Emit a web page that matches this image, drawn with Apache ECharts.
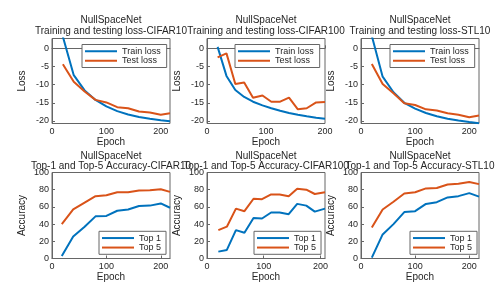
<!DOCTYPE html>
<html><head><meta charset="utf-8">
<script src="https://cdn.jsdelivr.net/npm/echarts@6/dist/echarts.min.js"></script>
<style>html,body{margin:0;padding:0;background:#fff}#c{width:498px;height:288px}</style>
</head><body><div id="c"></div>
<script>
// ---- data ----
const datasetNames = ['CIFAR10', 'CIFAR100', 'STL10'];
const lossNames = ['Train loss', 'Test loss'];
const accNames = ['Top 1', 'Top 5'];

const epochsLossC10 = [20, 40, 60, 80, 100, 120, 140, 160, 180, 200, 217];
const trainLossC10 = [3.2, -7.4, -11.6, -14.2, -16.0, -17.3, -18.2, -18.9, -19.4, -19.8, -20.1];
const testLossC10 = [-4.4, -9.2, -11.9, -14.2, -14.9, -16.2, -16.5, -17.4, -17.7, -18.3, -17.9];

const epochsLossC100 = [18, 33, 48, 63, 78, 94, 109, 124, 139, 154, 169, 185, 200];
const trainLossC100 = [0.4, -7.6, -11.5, -13.4, -14.7, -15.7, -16.5, -17.2, -17.8, -18.3, -18.7, -19.1, -19.4];
const testLossC100 = [-2.5, -1.4, -9.8, -9.4, -13.6, -13.0, -14.7, -14.7, -13.6, -16.8, -16.5, -14.9, -14.8];

const epochsLossSTL = [20, 40, 60, 80, 100, 120, 140, 160, 180, 200, 218];
const trainLossSTL = [3.4, -7.8, -12.1, -15.0, -16.6, -17.8, -18.7, -19.4, -19.9, -20.3, -20.6];
const testLossSTL = [-4.3, -9.8, -12.4, -15.1, -15.6, -16.8, -17.1, -17.9, -18.3, -19.0, -18.5];

const epochsAccC10 = [18, 39, 60, 80, 100, 120, 140, 160, 180, 200, 217];
const top1C10 = [3, 25.5, 37, 49, 49.5, 55.5, 57, 61, 61.5, 64, 59];
const top5C10 = [40, 57, 65, 72.5, 73.5, 77, 77, 79, 79.5, 80.5, 77.5];

const epochsAccC100 = [20, 35, 51, 66, 82, 97, 113, 128, 144, 159, 175, 190, 208];
const top1C100 = [8, 10, 33, 30, 47, 46.5, 53.5, 53.5, 51.5, 63.5, 61.5, 54.5, 58];
const top5C100 = [33, 37, 58, 55, 69.5, 69, 74.5, 74.5, 72.5, 81, 80, 75, 77];

const epochsAccSTL = [20, 40, 60, 80, 100, 120, 140, 160, 180, 200, 218];
const top1STL = [1, 28, 40, 54, 55, 63.5, 65.5, 71, 72.5, 76, 72];
const top5STL = [36, 57, 66, 75.5, 77, 81.5, 82, 86, 87, 89, 86.5];

const xTickValues = [0, 100, 200];
const lossTickValues = [-20, -15, -10, -5, 0];
const accTickValues = [0, 20, 40, 60, 80, 100];

// ---- layout / style ----
const BLUE = '#0072BD', ORANGE = '#D95319';
const AXIS = '#666', TXT = '#262626';
const FONT = 'Liberation Sans, Arial, Helvetica, sans-serif';
const lefts = [52, 207, 361];
const W = 118;
const rows = [{ top: 38.5, height: 85 }, { top: 172.5, height: 86 }];
const xMaxLoss = [217, 200, 218];
const xMaxAcc = [217, 208, 218];

const lossData = [
  [epochsLossC10, trainLossC10, testLossC10],
  [epochsLossC100, trainLossC100, testLossC100],
  [epochsLossSTL, trainLossSTL, testLossSTL]
];
const accData = [
  [epochsAccC10, top1C10, top5C10],
  [epochsAccC100, top1C100, top5C100],
  [epochsAccSTL, top1STL, top5STL]
];

const zip = (xs, ys) => xs.map((x, i) => [x, ys[i]]);

const grid = [], xAxis = [], yAxis = [], series = [], title = [], legend = [];

function axisCommon() {
  return {
    axisLine: { show: true, lineStyle: { color: AXIS, width: 1 } },
    splitLine: { show: false },
    nameLocation: 'middle',
    nameTextStyle: { fontSize: 10, color: TXT, fontFamily: FONT }
  };
}

for (let r = 0; r < 2; r++) {
  for (let c = 0; c < 3; c++) {
    const idx = r * 3 + c;
    grid.push({ left: lefts[c], top: rows[r].top, width: W, height: rows[r].height,
      show: true, borderColor: AXIS, borderWidth: 1, backgroundColor: 'transparent' });
    xAxis.push(Object.assign(axisCommon(), {
      type: 'value', gridIndex: idx, min: 0, max: r === 0 ? xMaxLoss[c] : xMaxAcc[c],
      name: 'Epoch', nameGap: 13,
      axisTick: { show: true, inside: true, length: 3, lineStyle: { color: AXIS }, customValues: xTickValues },
      axisLabel: { fontSize: 9, color: TXT, fontFamily: FONT, margin: 4, customValues: xTickValues }
    }));
    const tv = r === 0 ? lossTickValues : accTickValues;
    yAxis.push(Object.assign(axisCommon(), {
      type: 'value', gridIndex: idx,
      min: r === 0 ? -20.7 : 0, max: r === 0 ? 2.7 : 100,
      name: r === 0 ? 'Loss' : 'Accuracy', nameGap: 25,
      axisTick: { show: true, inside: true, length: 3, lineStyle: { color: AXIS }, customValues: tv },
      axisLabel: { fontSize: 9, color: TXT, fontFamily: FONT, margin: 3, customValues: tv }
    }));
    const d = r === 0 ? lossData[c] : accData[c];
    const names = r === 0 ? lossNames : accNames;
    [BLUE, ORANGE].forEach((col, k) => {
      series.push({
        type: 'line', name: names[k], xAxisIndex: idx, yAxisIndex: idx,
        data: zip(d[0], d[k + 1]), showSymbol: false, symbol: 'none', clip: true,
        color: col, lineStyle: { color: col, width: 2 }, animation: false, silent: true
      });
    });
    const cx = lefts[c] + W / 2;
    title.push({
      text: r === 0 ? 'NullSpaceNet\nTraining and testing loss-' + datasetNames[c]
                    : 'NullSpaceNet\nTop-1 and Top-5 Accuracy-' + datasetNames[c],
      left: cx, top: r === 0 ? 15 : 151, textAlign: 'center', padding: 0,
      textStyle: { fontSize: 10, fontWeight: 'normal', color: TXT, fontFamily: FONT, lineHeight: r === 0 ? 11 : 10 }
    });
  }
}

const lossLegendLefts = [82, 235, 390];
const accLegendLefts = [99, 254, 410];
for (let c = 0; c < 3; c++) {
  legend.push({
    orient: 'vertical', left: lossLegendLefts[c], top: 44.5, data: lossNames,
    icon: 'rect', itemWidth: 32, itemHeight: 2, itemGap: 0, padding: [2, 6, 2, 3],
    borderColor: AXIS, borderWidth: 1, backgroundColor: '#fff', selectedMode: false,
    textStyle: { fontSize: 9, color: TXT, fontFamily: FONT, lineHeight: 9.5 }
  });
  legend.push({
    orient: 'vertical', left: accLegendLefts[c], top: 231.3, data: accNames,
    icon: 'rect', itemWidth: 32, itemHeight: 2, itemGap: 0, padding: [2, 5, 2, 3],
    borderColor: AXIS, borderWidth: 1, backgroundColor: '#fff', selectedMode: false,
    textStyle: { fontSize: 9, color: TXT, fontFamily: FONT, lineHeight: 9.5 }
  });
}

const chart = echarts.init(document.getElementById('c'), null, { renderer: 'canvas' });
chart.setOption({
  animation: false, backgroundColor: '#fff',
  textStyle: { fontFamily: FONT },
  grid, xAxis, yAxis, series, title, legend
});
</script>
</body></html>
